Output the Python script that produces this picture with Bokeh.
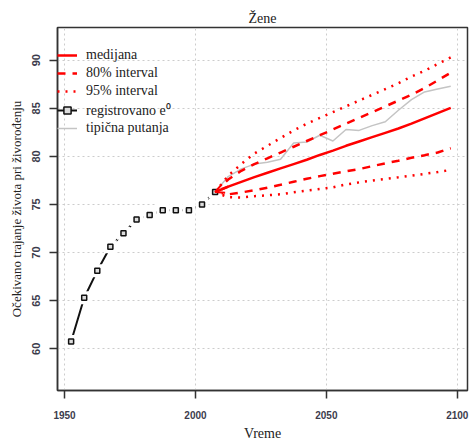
from bokeh.plotting import figure
from bokeh.models import FixedTicker, Legend, LegendItem, Arrow, OpenHead, Range1d
from bokeh.embed import file_html
from bokeh.resources import INLINE

# registered life expectancy at birth (women)
obs_years = [1952.5, 1957.5, 1962.5, 1967.5, 1972.5, 1977.5, 1982.5, 1987.5,
             1992.5, 1997.5, 2002.5, 2007.5]
obs_e0 = [60.75, 65.3, 68.1, 70.6, 72.0, 73.45, 73.9, 74.4, 74.4, 74.4, 75.0, 76.3]

# projection periods
proj_years = [2007.5, 2012.5, 2017.5, 2022.5, 2027.5, 2032.5, 2037.5, 2042.5,
              2047.5, 2052.5, 2057.5, 2062.5, 2067.5, 2072.5, 2077.5, 2082.5,
              2087.5, 2092.5, 2097.5]
median = [76.3, 76.85, 77.35, 77.85, 78.3, 78.75, 79.2, 79.65, 80.15, 80.6, 81.1,
          81.55, 82.0, 82.45, 82.9, 83.4, 83.95, 84.5, 85.05]
up80 = [76.3, 77.6, 78.5, 79.2, 79.8, 80.4, 81.0, 81.6, 82.2, 82.8, 83.4, 84.0,
        84.6, 85.2, 85.8, 86.4, 87.1, 87.9, 88.7]
lo80 = [76.3, 76.05, 76.25, 76.48, 76.75, 77.05, 77.36, 77.67, 77.95, 78.2, 78.45,
        78.68, 78.98, 79.28, 79.55, 79.85, 80.12, 80.4, 80.85]
up95 = [76.3, 78.0, 79.2, 80.3, 81.1, 81.9, 82.7, 83.4, 84.0, 84.6, 85.2, 85.8,
        86.4, 87.0, 87.6, 88.3, 88.9, 89.6, 90.3]
lo95 = [76.3, 75.75, 75.72, 75.86, 75.96, 76.06, 76.27, 76.45, 76.6, 76.78, 77.08,
        77.3, 77.48, 77.65, 77.82, 78.0, 78.18, 78.37, 78.6]
typical = [76.3, 77.9, 78.7, 79.2, 79.4, 79.7, 81.4, 81.5, 82.2, 81.6, 82.8, 82.7,
           83.2, 83.6, 84.8, 85.9, 86.7, 87.0, 87.3]

x_ticks = [1950, 2000, 2050, 2100]
y_ticks = [60, 65, 70, 75, 80, 85, 90]

title_text = "Žene"
x_label = "Vreme"
y_label = "Očekivano trajanje života pri živorođenju"
legend_labels = ["medijana", "80% interval", "95% interval", "registrovano e⁰", "tipična putanja"]

SERIF = "Liberation Serif"
SANS = "Liberation Sans"
RED = "#ff0000"

p = figure(width=469, height=443, output_backend="svg", toolbar_location=None,
           x_range=Range1d(1947.3, 2103.9), y_range=Range1d(55.66, 93.4),
           min_border_left=57, min_border_right=2, min_border_top=27, min_border_bottom=51)

p.title.text = title_text
p.title.text_font = SERIF
p.title.text_font_size = "14px"
p.title.text_font_style = "normal"
p.title.align = "center"
p.title.text_color = "#222222"
p.title.standoff = 4

p.outline_line_color = "#333333"
p.outline_line_width = 1.5

for ax in (p.xaxis[0], p.yaxis[0]):
    ax.axis_line_color = "#333333"
    ax.axis_line_width = 1.5
    ax.major_tick_line_color = "#333333"
    ax.major_tick_line_width = 1.5
    ax.major_tick_out = 8
    ax.major_tick_in = 0
    ax.minor_tick_line_color = None
    ax.major_label_text_font = SANS
    ax.major_label_text_font_style = "bold"
    ax.major_label_text_color = "#3c3c4c"
    ax.axis_label_text_font = SERIF
    ax.axis_label_text_font_style = "normal"
    ax.axis_label_text_color = "#222222"

p.xaxis.ticker = FixedTicker(ticks=x_ticks)
p.yaxis.ticker = FixedTicker(ticks=y_ticks)
p.xaxis.axis_label = x_label
p.yaxis.axis_label = y_label
p.xaxis.major_label_text_font_size = "10px"
p.yaxis.major_label_text_font_size = "11px"
p.xaxis.axis_label_text_font_size = "14px"
p.yaxis.axis_label_text_font_size = "13px"
p.xaxis.major_label_standoff = 12
p.xaxis.axis_label_standoff = 4
p.yaxis.major_label_orientation = "vertical"
p.yaxis.major_label_standoff = 9
p.yaxis.axis_label_standoff = 6

p.grid.grid_line_color = "#cccccc"
p.grid.grid_line_dash = "2 3"
p.grid.grid_line_width = 1

# typical trajectory
r_typ = p.line(proj_years, typical, line_color="#c4c4c4", line_width=1.5)

# intervals
r_u95 = p.line(proj_years, up95, line_color=RED, line_width=2.5, line_dash="2 6")
r_l95 = p.line(proj_years, lo95, line_color=RED, line_width=2.5, line_dash="2 6")
r_u80 = p.line(proj_years, up80, line_color=RED, line_width=2.5, line_dash="8 7")
r_l80 = p.line(proj_years, lo80, line_color=RED, line_width=2.5, line_dash="8 7")
r_med = p.line(proj_years, median, line_color=RED, line_width=2.5)

p.add_layout(Arrow(end=OpenHead(size=9, line_color=RED, line_width=2),
                   x_start=proj_years[1], y_start=median[1],
                   x_end=proj_years[0], y_end=median[0],
                   line_color=RED, line_width=2.5))

# observed
r_obs = p.line(obs_years, obs_e0, line_color="#111111", line_width=2)
p.scatter(obs_years, obs_e0, marker="square", size=13, fill_color="white",
          line_color=None)
r_pts = p.scatter(obs_years, obs_e0, marker="square", size=5, fill_color="#dddddd",
                  line_color="#111111", line_width=1.5)

legend = Legend(items=[
    LegendItem(label=legend_labels[0], renderers=[r_med]),
    LegendItem(label=legend_labels[1], renderers=[r_u80]),
    LegendItem(label=legend_labels[2], renderers=[r_u95]),
    LegendItem(label=legend_labels[3], renderers=[r_obs, r_pts]),
    LegendItem(label=legend_labels[4], renderers=[r_typ]),
], location=(0, 253))
legend.border_line_color = None
legend.background_fill_alpha = 0
legend.padding = 0
legend.margin = 0
legend.spacing = 0
legend.glyph_width = 20
legend.glyph_height = 18
legend.label_height = 18
legend.label_standoff = 9
legend.label_text_font = SERIF
legend.label_text_font_size = "14px"
legend.label_text_color = "#222222"
p.add_layout(legend)

open("out.html", "w").write(file_html(p, INLINE))
